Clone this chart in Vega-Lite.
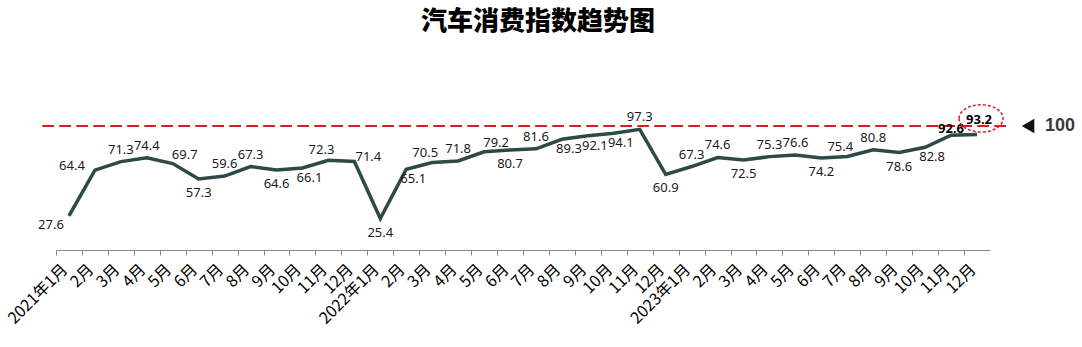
{
  "$schema": "https://vega.github.io/schema/vega-lite/v6.json",
  "autosize": {"type": "none"},
  "padding": {"left": 56, "top": 126, "right": 92, "bottom": 97},
  "width": 934,
  "height": 124,
  "background": "white",
  "title": {
    "text": "汽车消费指数趋势图",
    "font": "Noto Sans CJK SC",
    "fontSize": 26,
    "fontWeight": 900,
    "color": "#000000",
    "anchor": "middle",
    "dx": 15,
    "offset": 67
  },
  "config": {"view": {"stroke": null}},
  "data": {
    "values": [
      {"month": "2021年1月", "value": 27.6},
      {"month": "2021年2月", "value": 64.4},
      {"month": "2021年3月", "value": 71.3},
      {"month": "2021年4月", "value": 74.4},
      {"month": "2021年5月", "value": 69.7},
      {"month": "2021年6月", "value": 57.3},
      {"month": "2021年7月", "value": 59.6},
      {"month": "2021年8月", "value": 67.3},
      {"month": "2021年9月", "value": 64.6},
      {"month": "2021年10月", "value": 66.1},
      {"month": "2021年11月", "value": 72.3},
      {"month": "2021年12月", "value": 71.4},
      {"month": "2022年1月", "value": 25.4},
      {"month": "2022年2月", "value": 65.1},
      {"month": "2022年3月", "value": 70.5},
      {"month": "2022年4月", "value": 71.8},
      {"month": "2022年5月", "value": 79.2},
      {"month": "2022年6月", "value": 80.7},
      {"month": "2022年7月", "value": 81.6},
      {"month": "2022年8月", "value": 89.3},
      {"month": "2022年9月", "value": 92.1},
      {"month": "2022年10月", "value": 94.1},
      {"month": "2022年11月", "value": 97.3},
      {"month": "2022年12月", "value": 60.9},
      {"month": "2023年1月", "value": 67.3},
      {"month": "2023年2月", "value": 74.6},
      {"month": "2023年3月", "value": 72.5},
      {"month": "2023年4月", "value": 75.3},
      {"month": "2023年5月", "value": 76.6},
      {"month": "2023年6月", "value": 74.2},
      {"month": "2023年7月", "value": 75.4},
      {"month": "2023年8月", "value": 80.8},
      {"month": "2023年9月", "value": 78.6},
      {"month": "2023年10月", "value": 82.8},
      {"month": "2023年11月", "value": 92.6},
      {"month": "2023年12月", "value": 93.2}
    ]
  },
  "encoding": {
    "x": {
      "field": "month",
      "type": "ordinal",
      "sort": null,
      "scale": {
        "type": "band",
        "paddingInner": 0,
        "paddingOuter": 0,
        "domain": ["2021年1月", "2021年2月", "2021年3月", "2021年4月", "2021年5月", "2021年6月", "2021年7月", "2021年8月", "2021年9月", "2021年10月", "2021年11月", "2021年12月", "2022年1月", "2022年2月", "2022年3月", "2022年4月", "2022年5月", "2022年6月", "2022年7月", "2022年8月", "2022年9月", "2022年10月", "2022年11月", "2022年12月", "2023年1月", "2023年2月", "2023年3月", "2023年4月", "2023年5月", "2023年6月", "2023年7月", "2023年8月", "2023年9月", "2023年10月", "2023年11月", "2023年12月"]
      },
      "axis": {
        "title": null,
        "tickOffset": -13,
        "labelAngle": -45,
        "labelOffset": 3,
        "labelFont": "Noto Sans CJK SC",
        "labelFontSize": 16,
        "labelColor": "#000000",
        "labelPadding": 6,
        "labelOverlap": false,
        "labelExpr": "indexof(datum.value, '年1月') > 0 ? datum.value : slice(datum.value, 5)",
        "domainColor": "#888888",
        "domainWidth": 1,
        "tickColor": "#888888",
        "tickSize": 5,
        "grid": false
      }
    },
    "y": {
      "field": "value",
      "type": "quantitative",
      "scale": {"domain": [0, 100], "nice": false},
      "axis": null
    }
  },
  "layer": [
    {
      "mark": {"type": "rule", "color": "#d42020", "strokeWidth": 2, "strokeDash": [11, 6], "xOffset": -26, "x2Offset": 32},
      "encoding": {
        "x": {"datum": "2021年1月", "type": "ordinal"},
        "x2": {"datum": "2023年12月"},
        "y": {"datum": 100, "type": "quantitative"}
      }
    },
    {
      "mark": {"type": "line", "color": "#2e4a47", "strokeWidth": 3.5, "strokeJoin": "miter"}
    },
    {
      "transform": [{"filter": {"field": "month", "oneOf": ["2021年6月", "2021年9月", "2022年1月", "2022年6月", "2022年12月", "2023年3月", "2023年6月", "2023年9月"]}}],
      "mark": {"type": "text", "font": "Noto Sans", "fontSize": 13, "color": "#1a1a1a", "dy": 14},
      "encoding": {"text": {"field": "value", "type": "quantitative", "format": ".1f"}}
    },
    {
      "transform": [{"filter": {"field": "month", "oneOf": ["2021年10月", "2022年2月", "2022年8月", "2022年9月", "2022年10月", "2023年10月"]}}],
      "mark": {"type": "text", "font": "Noto Sans", "fontSize": 13, "color": "#1a1a1a", "dy": 10, "dx": 7},
      "encoding": {"text": {"field": "value", "type": "quantitative", "format": ".1f"}}
    },
    {
      "transform": [{"filter": {"field": "month", "oneOf": ["2021年1月"]}}],
      "mark": {"type": "text", "font": "Noto Sans", "fontSize": 13, "color": "#1a1a1a", "dy": 9, "dx": -18},
      "encoding": {"text": {"field": "value", "type": "quantitative", "format": ".1f"}}
    },
    {
      "transform": [{"filter": {"field": "month", "oneOf": ["2021年3月", "2021年4月", "2021年7月", "2021年8月", "2022年4月", "2022年7月", "2022年11月", "2023年1月", "2023年2月", "2023年4月", "2023年5月", "2023年8月"]}}],
      "mark": {"type": "text", "font": "Noto Sans", "fontSize": 13, "color": "#1a1a1a", "dy": -12},
      "encoding": {"text": {"field": "value", "type": "quantitative", "format": ".1f"}}
    },
    {
      "transform": [{"filter": {"field": "month", "oneOf": ["2021年11月", "2022年3月", "2023年7月"]}}],
      "mark": {"type": "text", "font": "Noto Sans", "fontSize": 13, "color": "#1a1a1a", "dy": -10, "dx": -7},
      "encoding": {"text": {"field": "value", "type": "quantitative", "format": ".1f"}}
    },
    {
      "transform": [{"filter": {"field": "month", "oneOf": ["2021年5月", "2022年5月"]}}],
      "mark": {"type": "text", "font": "Noto Sans", "fontSize": 13, "color": "#1a1a1a", "dy": -9, "dx": 12},
      "encoding": {"text": {"field": "value", "type": "quantitative", "format": ".1f"}}
    },
    {
      "transform": [{"filter": {"field": "month", "oneOf": ["2021年2月"]}}],
      "mark": {"type": "text", "font": "Noto Sans", "fontSize": 13, "color": "#1a1a1a", "dy": -4, "dx": -23},
      "encoding": {"text": {"field": "value", "type": "quantitative", "format": ".1f"}}
    },
    {
      "transform": [{"filter": {"field": "month", "oneOf": ["2021年12月"]}}],
      "mark": {"type": "text", "font": "Noto Sans", "fontSize": 13, "color": "#1a1a1a", "dy": -4, "dx": 14},
      "encoding": {"text": {"field": "value", "type": "quantitative", "format": ".1f"}}
    },
    {
      "transform": [{"filter": {"field": "month", "oneOf": ["2023年11月"]}}],
      "mark": {"type": "text", "font": "Noto Sans", "fontSize": 13, "fontWeight": "bold", "color": "#000000", "dy": -6},
      "encoding": {"text": {"field": "value", "type": "quantitative", "format": ".1f"}}
    },
    {
      "transform": [{"filter": {"field": "month", "oneOf": ["2023年12月"]}}],
      "mark": {"type": "text", "font": "Noto Sans", "fontSize": 13, "fontWeight": "bold", "color": "#000000", "dy": -14, "dx": 2},
      "encoding": {"text": {"field": "value", "type": "quantitative", "format": ".1f"}}
    },
    {
      "transform": [{"filter": {"field": "month", "oneOf": ["2023年12月"]}}],
      "mark": {"type": "point", "shape": "M -1 0 A 1 0.62 0 1 0 1 0 A 1 0.62 0 1 0 -1 0 Z", "size": 1936, "filled": false, "stroke": "#d42020", "strokeWidth": 1.5, "strokeDash": [3, 2], "xOffset": 4, "yOffset": -16, "opacity": 1}
    },
    {
      "transform": [{"filter": {"field": "month", "oneOf": ["2023年12月"]}}],
      "mark": {"type": "point", "shape": "triangle-left", "size": 210, "filled": true, "color": "#111111", "xOffset": 51, "opacity": 1},
      "encoding": {
        "y": {"datum": 100, "type": "quantitative"}
      }
    },
    {
      "transform": [{"filter": {"field": "month", "oneOf": ["2023年12月"]}}],
      "mark": {"type": "text", "text": "100", "font": "Liberation Sans", "fontSize": 18, "fontWeight": "bold", "color": "#3a3a3a", "xOffset": 83, "baseline": "middle"},
      "encoding": {
        "y": {"datum": 100, "type": "quantitative"}
      }
    }
  ]
}
